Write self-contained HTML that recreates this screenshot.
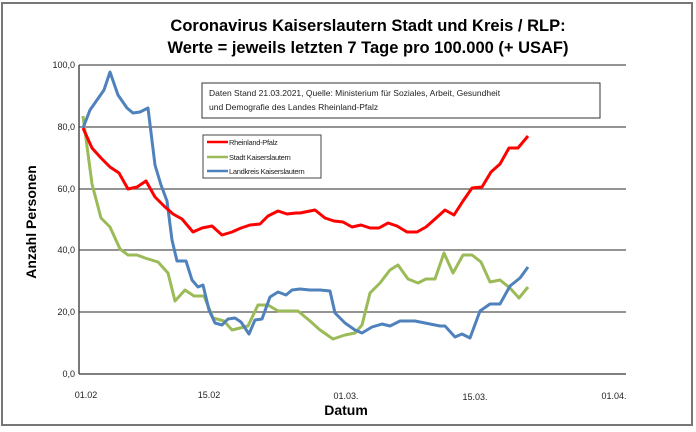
<!DOCTYPE html>
<html><head><meta charset="utf-8"><style>
body{margin:0;background:#fff;}
svg{display:block;font-family:"Liberation Sans",Arial,sans-serif;}
</style></head><body>
<svg width="696" height="432" viewBox="0 0 696 432">
<rect x="2" y="3" width="690" height="422" fill="#fff" stroke="#777" stroke-width="2"/>
<text x="368" y="31" font-size="16.5" font-weight="bold" text-anchor="middle">Coronavirus Kaiserslautern Stadt und Kreis / RLP:</text>
<text x="368" y="53" font-size="16.5" font-weight="bold" text-anchor="middle">Werte = jeweils letzten 7 Tage pro 100.000 (+ USAF)</text>
<g stroke="#555" stroke-width="1.3">
<line x1="79" y1="65" x2="626" y2="65"/>
<line x1="79" y1="127" x2="626" y2="127"/>
<line x1="79" y1="189" x2="626" y2="189"/>
<line x1="79" y1="250" x2="626" y2="250"/>
<line x1="79" y1="312" x2="626" y2="312"/>
<line x1="79" y1="374" x2="626" y2="374" stroke="#333"/>
<line x1="79" y1="65" x2="79" y2="374" stroke="#333"/>
</g>
<g font-size="9" text-anchor="end" fill="#222">
<text x="75" y="68">100,0</text><text x="75" y="130">80,0</text><text x="75" y="192">60,0</text>
<text x="75" y="253">40,0</text><text x="75" y="315">20,0</text><text x="75" y="377">0,0</text>
</g>
<g font-size="9" text-anchor="middle" fill="#222">
<text x="86" y="398">01.02</text><text x="209" y="398">15.02</text><text x="346" y="399">01.03.</text>
<text x="475" y="400">15.03.</text><text x="614" y="399">01.04.</text>
</g>
<text x="346" y="415" font-size="14" font-weight="bold" text-anchor="middle">Datum</text>
<text transform="translate(36,222) rotate(-90)" font-size="14" font-weight="bold" text-anchor="middle">Anzahl Personen</text>
<rect x="202" y="83" width="398" height="35" fill="#fff" stroke="#333"/>
<text x="209" y="96" font-size="8.5" fill="#222">Daten Stand 21.03.2021, Quelle: Ministerium für Soziales, Arbeit, Gesundheit</text>
<text x="209" y="110" font-size="8.5" fill="#222">und Demografie des Landes Rheinland-Pfalz</text>
<g fill="none" stroke-width="3" stroke-linejoin="round">
<polyline stroke="#9bbb59" points="83,116 92,184 101,218 110,227 120,249 128,255 137,255 145,258 158,262 168,273 175,301 185,290 194,296 204,296 213,318 224,321 232,330 248,326 258,305 268,305 278,311 298,311 310,321 320,330 333,339 345,335 355,333 362,325 370,293 380,283 390,270 398,265 408,279 418,283 426,279 435,279 444,253 453,273 463,255 472,255 481,262 490,282 500,280 510,288 519,298 528,287"/>
<polyline stroke="#4f81bd" points="83,128 90,110 97,100 104,90 110,72 118,95 127,108 133,113 140,112 148,108 155,165 161,185 167,201 172,240 177,261 186,261 192,280 198,287 203,285 209,310 215,323 222,325 228,319 235,318 241,322 249,334 255,320 262,319 270,297 278,292 286,295 292,290 300,289 310,290 320,290 330,291 335,313 345,323 355,330 362,333 372,327 382,324 390,326 400,321 415,321 430,324 440,326 445,326 455,337 462,334 470,338 480,311 490,304 500,304 510,286 520,278 528,267"/>
<polyline stroke="#ff0000" points="83,128 92,148 101,158 110,167 119,173 128,189 137,187 146,181 155,197 164,206 173,214 182,219 193,232 202,228 212,226 222,235 232,232 241,228 250,225 260,224 268,216 278,211 287,214 296,213 300,213 315,210 325,218 334,221 343,222 352,227 361,225 370,228 379,228 388,223 397,226 407,232 417,232 426,227 435,219 445,210 454,215 463,201 472,188 482,187 491,172 500,164 509,148 518,148 528,136"/>
</g>
<rect x="203" y="135" width="118" height="43" fill="#fff" stroke="#444"/>
<g stroke-width="2.5">
<line x1="207" y1="142" x2="228" y2="142" stroke="#ff0000"/>
<line x1="207" y1="157" x2="228" y2="157" stroke="#9bbb59"/>
<line x1="207" y1="171" x2="228" y2="171" stroke="#4f81bd"/>
</g>
<g font-size="7.5" fill="#222" letter-spacing="-0.3">
<text x="229" y="145">Rheinland-Pfalz</text>
<text x="229" y="160">Stadt Kaiserslautern</text>
<text x="229" y="174">Landkreis Kaiserslautern</text>
</g>
</svg>
</body></html>
